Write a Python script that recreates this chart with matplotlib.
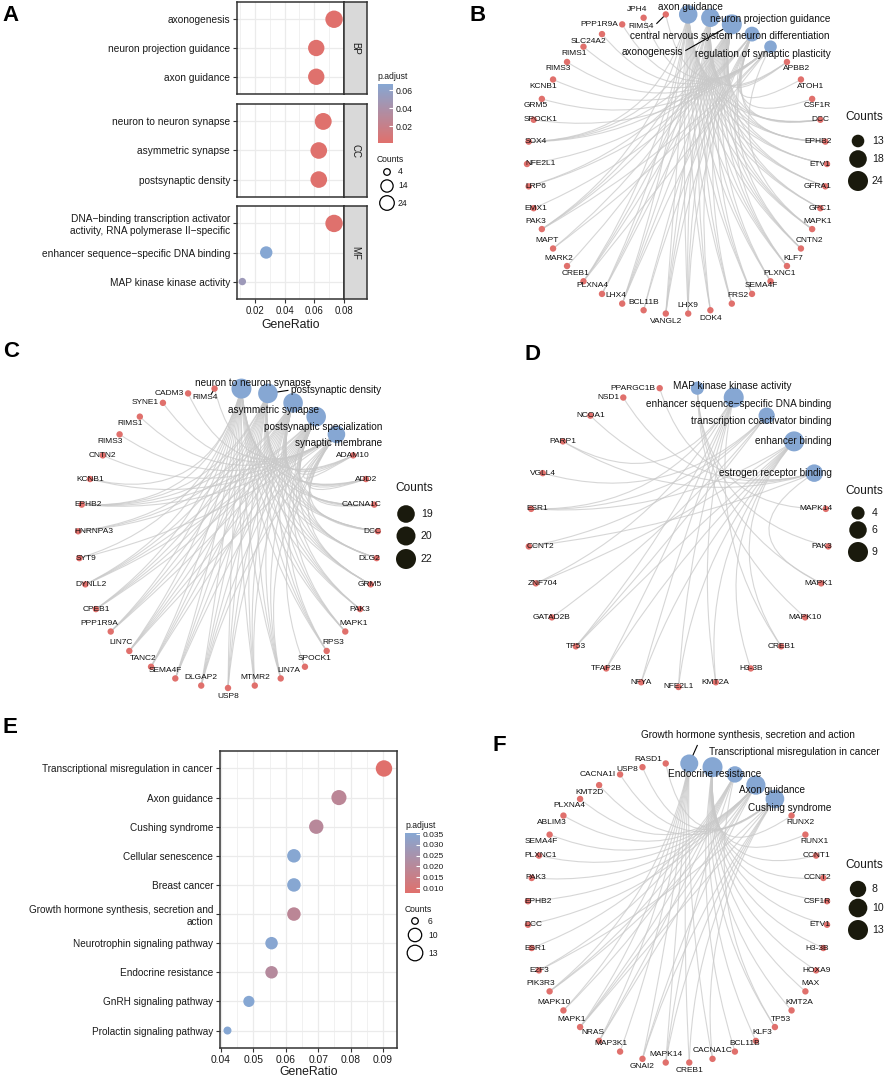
import numpy as np
import matplotlib
matplotlib.use("Agg")
import matplotlib.pyplot as plt
from matplotlib.colors import LinearSegmentedColormap, Normalize
from matplotlib.cm import ScalarMappable
from matplotlib.path import Path
from matplotlib.patches import PathPatch

plt.rcParams['font.family'] = ['Liberation Sans', 'DejaVu Sans']

W, H = 886, 1081
RED, BLUE = '#E0706C', '#86A7D3'
EDGE = '#C9C9C9'
DARK = '#1A1A0D'
TXT = '#1A1A1A'

# ---------------- panel A data ----------------
bp_terms = ["axonogenesis", "neuron projection guidance", "axon guidance"]
bp_ratio = [0.0733, 0.0613, 0.0613]
bp_count = [24, 20, 20]
bp_padj = [0.0015, 0.002, 0.002]

cc_terms = ["neuron to neuron synapse", "asymmetric synapse", "postsynaptic density"]
cc_ratio = [0.0660, 0.0630, 0.0630]
cc_count = [22, 21, 21]
cc_padj = [0.002, 0.002, 0.002]

mf_terms = ["DNA\u2212binding transcription activator\nactivity, RNA polymerase II\u2212specific",
            "enhancer sequence\u2212specific DNA binding", "MAP kinase kinase activity"]
mf_ratio = [0.0733, 0.0276, 0.0115]
mf_count = [24, 9, 4]
mf_padj = [0.002, 0.0667, 0.050]

a_count_breaks = [4, 14, 24]
a_cbar_ticks = [0.02, 0.04, 0.06]

# ---------------- panel E data ----------------
e_terms = ["Transcriptional misregulation in cancer", "Axon guidance", "Cushing syndrome",
           "Cellular senescence", "Breast cancer",
           "Growth hormone synthesis, secretion and\naction",
           "Neurotrophin signaling pathway", "Endocrine resistance",
           "GnRH signaling pathway", "Prolactin signaling pathway"]
e_ratio = [0.0903, 0.0764, 0.0694, 0.0625, 0.0625, 0.0625, 0.0556, 0.0556, 0.0486, 0.0420]
e_count = [13, 11, 10, 9, 9, 9, 8, 8, 7, 6]
e_padj = [0.0077, 0.019, 0.020, 0.0352, 0.0352, 0.019, 0.0348, 0.021, 0.0355, 0.0355]
e_count_breaks = [6, 10, 13]
e_cbar_ticks = [0.010, 0.015, 0.020, 0.025, 0.030, 0.035]

# ---------------- panel B data ----------------
b_cats = ["axon guidance", "neuron projection guidance", "axonogenesis",
          "central nervous system neuron differentiation", "regulation of synaptic plasticity"]
b_counts = [20, 20, 24, 14, 13]
b_genes = ["APBB2", "ATOH1", "CSF1R", "DCC", "EPHB2", "ETV1", "GFRA1", "GPC1", "MAPK1", "CNTN2",
           "KLF7", "PLXNC1", "SEMA4F", "FRS2", "DOK4", "LHX9", "VANGL2", "BCL11B", "LHX4", "PLXNA4",
           "CREB1", "MARK2", "MAPT", "PAK3", "EMX1", "LRP6", "NFE2L1", "SOX4", "SPOCK1", "GRM5",
           "KCNB1", "RIMS3", "RIMS1", "SLC24A2", "PPP1R9A", "JPH4", "RIMS4"]
b_axon = "APBB2 DCC EPHB2 ETV1 GFRA1 GPC1 MAPK1 CNTN2 KLF7 PLXNC1 SEMA4F FRS2 DOK4 LHX9 VANGL2 LHX4 PLXNA4 CREB1 PAK3 SOX4".split()
b_npg = list(b_axon)
b_axgen = b_axon + ["MAPT", "MARK2", "BCL11B", "LRP6"]
b_cns = "ATOH1 CSF1R DCC EPHB2 BCL11B LHX4 LHX9 EMX1 LRP6 NFE2L1 SOX4 VANGL2 KLF7 CNTN2".split()
b_rsp = "JPH4 RIMS4 PPP1R9A SLC24A2 RIMS1 RIMS3 KCNB1 GRM5 SPOCK1 MAPK1 CREB1 PAK3 MAPT".split()
b_breaks = [13, 18, 24]

# ---------------- panel C data ----------------
c_cats = ["neuron to neuron synapse", "postsynaptic density", "asymmetric synapse",
          "postsynaptic specialization", "synaptic membrane"]
c_counts = [22, 21, 21, 21, 19]
c_genes = ["ADAM10", "ADD2", "CACNA1C", "DCC", "DLG2", "GRM5", "PAK3", "MAPK1", "RPS3", "SPOCK1",
           "LIN7A", "MTMR2", "USP8", "DLGAP2", "SEMA4F", "TANC2", "LIN7C", "PPP1R9A", "CPEB1",
           "DYNLL2", "SYT9", "HNRNPA3", "EPHB2", "KCNB1", "CNTN2", "RIMS3", "RIMS1", "SYNE1",
           "CADM3", "RIMS4"]
c_psd = "ADAM10 ADD2 CACNA1C DCC DLG2 GRM5 PAK3 MAPK1 RPS3 LIN7A MTMR2 USP8 DLGAP2 SEMA4F TANC2 LIN7C PPP1R9A CPEB1 DYNLL2 HNRNPA3 EPHB2".split()
c_n2n = [g for g in c_psd if g != "HNRNPA3"] + ["KCNB1", "SYT9"]
c_sm = "KCNB1 CNTN2 RIMS3 RIMS1 SYNE1 CADM3 RIMS4 SYT9 SPOCK1 GRM5 DLG2 CACNA1C ADAM10 LIN7A LIN7C EPHB2 DCC ADD2 DLGAP2".split()
c_breaks = [19, 20, 22]

# ---------------- panel D data ----------------
d_cats = ["MAP kinase kinase activity", "enhancer sequence\u2212specific DNA binding",
          "transcription coactivator binding", "enhancer binding", "estrogen receptor binding"]
d_counts = [4, 9, 5, 9, 6]
d_genes = ["MAPK14", "PAK3", "MAPK1", "MAPK10", "CREB1", "H3-3B", "KMT2A", "NFE2L1", "NFYA",
           "TFAP2B", "TP53", "GATAD2B", "ZNF704", "CCNT2", "ESR1", "VGLL4", "PARP1", "NCOA1",
           "NSD1", "PPARGC1B"]
d_mapkk = "MAPK14 PAK3 MAPK1 MAPK10".split()
d_ess = "ESR1 CREB1 NFE2L1 NFYA TFAP2B TP53 ZNF704 KMT2A PARP1".split()
d_tcb = "CCNT2 VGLL4 TP53 ESR1 GATAD2B".split()
d_eb = "ESR1 CREB1 NFE2L1 NFYA TFAP2B TP53 ZNF704 KMT2A H3-3B".split()
d_erb = "NCOA1 NSD1 PPARGC1B PARP1 CCNT2 MAPK1".split()
d_breaks = [4, 6, 9]

# ---------------- panel F data ----------------
f_cats = ["Growth hormone synthesis, secretion and action", "Transcriptional misregulation in cancer",
          "Endocrine resistance", "Axon guidance", "Cushing syndrome"]
f_counts = [9, 13, 8, 11, 10]
f_genes = ["RUNX2", "RUNX1", "CCNT1", "CCNT2", "CSF1R", "ETV1", "H3-3B", "HOXA9", "MAX", "KMT2A",
           "TP53", "KLF3", "BCL11B", "CACNA1C", "CREB1", "MAPK14", "GNAI2", "MAP3K1", "NRAS",
           "MAPK1", "MAPK10", "PIK3R3", "E2F3", "ESR1", "DCC", "EPHB2", "PAK3", "PLXNC1",
           "SEMA4F", "ABLIM3", "PLXNA4", "KMT2D", "CACNA1I", "USP8", "RASD1"]
f_gh = "CREB1 MAPK14 GNAI2 MAP3K1 NRAS MAPK1 MAPK10 PIK3R3 CACNA1C".split()
f_tm = "RUNX2 RUNX1 CCNT1 CCNT2 CSF1R ETV1 H3-3B HOXA9 MAX KMT2A TP53 KLF3 BCL11B".split()
f_er = "ESR1 E2F3 TP53 MAPK1 MAPK10 MAPK14 NRAS PIK3R3".split()
f_ag = "DCC EPHB2 PAK3 PLXNC1 SEMA4F ABLIM3 PLXNA4 NRAS MAPK1 PIK3R3 GNAI2".split()
f_cs = "CREB1 CACNA1C CACNA1I USP8 RASD1 E2F3 GNAI2 MAPK1 MAPK14 KMT2D".split()
f_breaks = [8, 10, 13]


def rect(x0, y0, x1, y1):
    return [x0 / W, 1 - y1 / H, (x1 - x0) / W, (y1 - y0) / H]


def pt_size(r):
    return (1.44 * np.asarray(r, float)) ** 2


def size_scale(c, lo, hi, rmin, rmax):
    c = np.asarray(c, float)
    return rmin + (rmax - rmin) * np.sqrt(np.clip((c - lo) / (hi - lo), 0, 1))


cmap = LinearSegmentedColormap.from_list('padj', [RED, BLUE])

fig = plt.figure(figsize=(W / 100, H / 100), dpi=100)
fig.patch.set_facecolor('white')


def style_dot_axes(ax):
    ax.grid(True, which='major', color='#EBEBEB', lw=0.9)
    ax.grid(True, which='minor', axis='x', color='#EBEBEB', lw=0.5)
    ax.set_axisbelow(True)
    ax.tick_params(which='major', length=3, width=0.8, color='#333333', pad=2, labelcolor=TXT)
    ax.tick_params(which='minor', length=0)
    for s in ax.spines.values():
        s.set_color('#333333')
        s.set_linewidth(1.1)


# ---------------- panel A ----------------
a_norm = Normalize(0.0011, 0.0667)
facets = [("BP", bp_terms, bp_ratio, bp_count, bp_padj, 2, 94),
          ("CC", cc_terms, cc_ratio, cc_count, cc_padj, 104, 197),
          ("MF", mf_terms, mf_ratio, mf_count, mf_padj, 206, 299)]
for i, (lab, terms, ratio, count, padj, y0, y1) in enumerate(facets):
    ax = fig.add_axes(rect(237, y0, 344, y1))
    ypos = np.arange(len(terms))[::-1]
    ax.scatter(ratio, ypos, s=pt_size(size_scale(count, 4, 24, 3.7, 8.7)), c=padj,
               cmap=cmap, norm=a_norm, edgecolors='none', zorder=3, clip_on=False)
    ax.set_xlim(0.0079, 0.08)
    ax.set_ylim(-0.6, len(terms) - 0.4)
    ax.set_yticks(ypos)
    ax.set_yticklabels(terms, fontsize=7.3)
    ax.set_xticks([0.02, 0.04, 0.06, 0.08])
    ax.set_xticks([0.01, 0.03, 0.05, 0.07], minor=True)
    style_dot_axes(ax)
    if i < 2:
        ax.tick_params(axis='x', which='major', labelbottom=False, length=0)
    else:
        ax.set_xticklabels(['0.02', '0.04', '0.06', '0.08'], fontsize=6.9)
        ax.set_xlabel('GeneRatio', fontsize=8.8, labelpad=2, color=TXT)
    sx = fig.add_axes(rect(344, y0, 367, y1))
    sx.set_facecolor('#D9D9D9')
    sx.set_xticks([])
    sx.set_yticks([])
    for s in sx.spines.values():
        s.set_color('#333333')
        s.set_linewidth(1.1)
    sx.text(0.5, 0.5, lab, rotation=270, ha='center', va='center', fontsize=7.0,
            color=TXT, transform=sx.transAxes)

cax = fig.add_axes(rect(378, 84, 393, 143))
cb = fig.colorbar(ScalarMappable(norm=a_norm, cmap=cmap), cax=cax)
cb.outline.set_visible(False)
cb.set_ticks(a_cbar_ticks)
cb.set_ticklabels(['0.02', '0.04', '0.06'])
cax.tick_params(length=3, color='white', width=0.8, direction='in', labelsize=6.3, pad=2,
                labelcolor=TXT)

# ---------------- panel E ----------------
e_norm = Normalize(0.0077, 0.0355)
ax = fig.add_axes(rect(220, 751, 397, 1048))
ypos = np.arange(len(e_terms))[::-1]
ax.scatter(e_ratio, ypos, s=pt_size(size_scale(e_count, 6, 13, 4.0, 8.2)), c=e_padj,
           cmap=cmap, norm=e_norm, edgecolors='none', zorder=3, clip_on=False)
ax.set_xlim(0.03969, 0.09432)
ax.set_ylim(-0.6, len(e_terms) - 0.4)
ax.set_yticks(ypos)
ax.set_yticklabels(e_terms, fontsize=7.2)
ax.set_xticks([0.04, 0.05, 0.06, 0.07, 0.08, 0.09])
ax.set_xticklabels(['0.04', '0.05', '0.06', '0.07', '0.08', '0.09'], fontsize=7.4)
ax.set_xticks([0.045, 0.055, 0.065, 0.075, 0.085], minor=True)
style_dot_axes(ax)
ax.set_xlabel('GeneRatio', fontsize=8.8, labelpad=1, color=TXT)

cax = fig.add_axes(rect(405, 833, 420, 893))
cb = fig.colorbar(ScalarMappable(norm=e_norm, cmap=cmap), cax=cax)
cb.outline.set_visible(False)
cb.set_ticks(e_cbar_ticks)
cb.set_ticklabels(['%.3f' % t for t in e_cbar_ticks])
cax.tick_params(length=3, color='white', width=0.8, direction='in', labelsize=6.0, pad=2,
                labelcolor=TXT)

# ---------------- overlay for networks, legends, letters ----------------
ov = fig.add_axes([0, 0, 1, 1])
ov.set_xlim(0, W)
ov.set_ylim(H, 0)
ov.axis('off')

# dot plot size legends
ov.text(377, 81, 'p.adjust', fontsize=6.2, va='bottom', ha='left', color=TXT)
ov.text(377, 160, 'Counts', fontsize=6.2, va='center', ha='left', color=TXT)
for yy, v in zip([172, 186, 203], a_count_breaks):
    ov.scatter([387], [yy], s=pt_size(size_scale(v, 4, 24, 3.3, 7.3)), facecolors='none',
               edgecolors='black', linewidths=0.9)
    ov.text(398, yy, str(v), fontsize=6.2, va='center', ha='left', color=TXT)

ov.text(405, 830, 'p.adjust', fontsize=6.2, va='bottom', ha='left', color=TXT)
ov.text(405, 909, 'Counts', fontsize=6.2, va='center', ha='left', color=TXT)
for yy, v in zip([921, 935, 953], e_count_breaks):
    ov.scatter([415], [yy], s=pt_size(size_scale(v, 6, 13, 3.3, 7.8)), facecolors='none',
               edgecolors='black', linewidths=0.9)
    ov.text(428, yy, str(v), fontsize=6.2, va='center', ha='left', color=TXT)


def gene_text(name, x, y, a, idx, side, xl, xr, fs=6.0):
    c, s = np.cos(a), np.sin(a)
    w = len(name) * fs * 100 / 72 * 0.64
    if s > 0.9:
        ov.text(x - 4, y, name, ha='right', va='center', fontsize=fs, color='#111111', zorder=5)
        return
    if abs(c) >= side:
        tx, ty = x, y
    elif s > 0:
        tx, ty = x + np.sign(c) * 0.35 * w, y + 7
    elif abs(c) < 0.3:
        tx, ty = x, (y + 8 if idx % 2 else y - 8)
    else:
        tx, ty = x + np.sign(c) * 0.3 * w, y - 8
    tx = min(max(tx, xl + w / 2), xr - w / 2)
    ov.text(tx, ty, name, ha='center', va='center', fontsize=fs, color='#111111', zorder=5)


def cnet(cx, cy, R, cats, counts, genes, members, breaks, rr, bounds, side,
         cat_off, overrides, leg):
    names = [('c', c) for c in cats] + [('g', g) for g in genes]
    n = len(names)
    step = 2 * np.pi / n
    ang = np.pi / 2 - step / 2 - step * np.arange(n)
    xs = cx + R * np.cos(ang)
    ys = cy - R * np.sin(ang)
    pos = {nm: (x, y, a, i) for i, (nm, x, y, a) in enumerate(zip(names, xs, ys, ang))}
    # edges bending toward the ring centre
    for cat, mem in zip(cats, members):
        x0, y0 = pos[('c', cat)][:2]
        for g in mem:
            x1, y1 = pos[('g', g)][:2]
            mx, my = (x0 + x1) / 2, (y0 + y1) / 2
            qx, qy = mx + 0.7 * (cx - mx), my + 0.7 * (cy - my)
            p = Path([(x0, y0), (qx, qy), (x1, y1)], [Path.MOVETO, Path.CURVE3, Path.CURVE3])
            ov.add_patch(PathPatch(p, fc='none', ec=EDGE, lw=0.8, alpha=0.75, zorder=1))
    gx = [pos[('g', g)][0] for g in genes]
    gy = [pos[('g', g)][1] for g in genes]
    ov.scatter(gx, gy, s=pt_size(3.2), c=RED, edgecolors='none', zorder=3)
    rad = size_scale(counts, breaks[0], breaks[-1], *rr)
    kx = [pos[('c', c)][0] for c in cats]
    ky = [pos[('c', c)][1] for c in cats]
    ov.scatter(kx, ky, s=pt_size(rad), c=BLUE, edgecolors='none', zorder=3)
    for g in genes:
        x, y, a, i = pos[('g', g)]
        if g in overrides:
            dx, dy, ha, lead = overrides[g]
            ov.text(x + dx, y + dy, g, ha=ha, va='center', fontsize=6.0, color='#111111', zorder=5)
            if lead:
                ov.plot([x, x + lead[0]], [y, y + lead[1]], color='black', lw=0.8, zorder=2)
        else:
            gene_text(g, x, y, a, i, side, bounds[0], bounds[1])
    for c, (dx, dy, ha, lead) in zip(cats, cat_off):
        x, y = pos[('c', c)][:2]
        ov.text(x + dx, y + dy, c, ha=ha, va='center', fontsize=7.2, color='#111111', zorder=5)
        if lead:
            ov.plot([x, x + lead[0]], [y, y + lead[1]], color='black', lw=0.8, zorder=2)
    tx, ty, lx, lys, labx = leg
    ov.text(tx, ty, 'Counts', fontsize=8.6, va='center', ha='left', color=TXT)
    for yy, v in zip(lys, breaks):
        ov.scatter([lx], [yy], s=pt_size(size_scale(v, breaks[0], breaks[-1], *rr)), c=DARK,
                   edgecolors='none')
        ov.text(labx, yy, str(v), fontsize=7.6, va='center', ha='left', color=TXT)


cnet(677, 164, 150, b_cats, b_counts, b_genes, [b_axon, b_npg, b_axgen, b_cns, b_rsp],
     b_breaks, (6.3, 10.0), (525, 831), 0.92,
     [(2, -7, 'center', None), (120, 1, 'right', None), (-49, 28, 'right', (-46, 26)),
      (78, 2, 'right', None), (60, 7, 'right', None)],
     {'RIMS4': (-12, 12, 'right', (-9, 9)), 'JPH4': (-7, -8, 'center', None)},
     (845, 117, 858, [141, 159, 181], 872))

cnet(228, 538, 150, c_cats, c_counts, c_genes, [c_n2n, c_psd, c_psd, c_psd, c_sm],
     c_breaks, (8.8, 10.0), (75, 380), 0.82,
     [(12, -6, 'center', None), (23, -3, 'left', (20, -3)), (-20, 7, 'center', None),
      (66, 10, 'right', None), (46, 9, 'right', None)],
     {'RIMS4': (3, 9, 'right', (-3, 5))},
     (395, 488, 406, [514, 536, 559], 421))

cnet(678.5, 537, 150, d_cats, d_counts, d_genes, [d_mapkk, d_ess, d_tcb, d_eb, d_erb],
     d_breaks, (6.6, 10.0), (527, 832), 0.0,
     [(-24, -2, 'left', None), (98, 6, 'right', None), (65, 5, 'right', None),
      (38, 0, 'right', None), (18, 0, 'right', None)],
     {},
     (845, 491, 858, [513, 530, 552], 872))

cnet(677.5, 913, 150, f_cats, f_counts, f_genes, [f_gh, f_tm, f_er, f_ag, f_cs],
     f_breaks, (8.2, 10.0), (525, 831), 0.9,
     [(59, -28, 'center', (8, -18)), (-4, -15, 'left', None), (-20, 0, 'center', None),
      (-17, 5, 'left', None), (56, 9, 'right', None)],
     {'RASD1': (-3, -4, 'right', None), 'USP8': (-4, 2, 'right', None)},
     (845, 865, 858, [889, 908, 930], 872))

# panel letters
for lab, x, y in [('A', 2, 5), ('B', 470, 5), ('C', 3, 341), ('D', 525, 344),
                  ('E', 2, 717), ('F', 493, 735)]:
    ov.text(x, y, lab, fontsize=16, fontweight='bold', va='top', ha='left', color='black')

fig.savefig('out.png', dpi=100)
